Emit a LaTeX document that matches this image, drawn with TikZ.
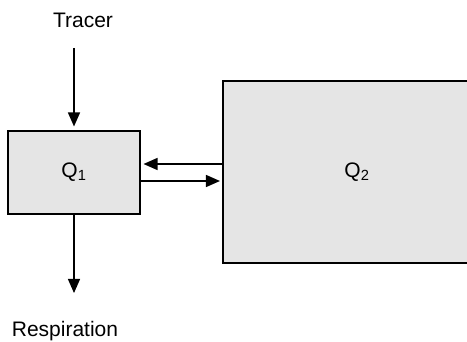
\documentclass[tikz,border=0pt]{standalone}
\usepackage{fontspec}
\setmainfont{Liberation Sans}
\usetikzlibrary{arrows.meta}

\tikzset{
  pool/.style={draw, line width=1.1pt, fill=black!10, inner sep=0pt},
  flow/.style={line width=1.4pt, -{Triangle[length=14pt,width=12pt]}},
}

\begin{document}
\begin{tikzpicture}[x=1pt, y=-1pt, font=\fontsize{21}{25}\selectfont]
  \useasboundingbox (0,0) rectangle (467,342);
  \clip (0,0) rectangle (467,342);

  \node[pool, minimum width=132pt, minimum height=83pt] (Q1) at (74,172.5) {Q\textsubscript{1}};
  \node[pool, minimum width=268pt, minimum height=182pt] (Q2) at (357,172) {Q\textsubscript{2}};

  \node (tracer) at (83,20) {Tracer};
  \node (resp) at (65,331) {Respiration};
  \coordinate (in) at (74,48);
  \coordinate (out) at (74,293);

  \draw[flow, shorten >=4pt] (in) -- (Q1.north);
  \draw[flow] (Q1.south) -- (out);
  \draw[flow, shorten >=3pt] ([yshift=8.5pt]Q2.west |- Q1.east) -- ([yshift=8.5pt]Q1.east);
  \draw[flow, shorten >=2.5pt] ([yshift=-8.5pt]Q1.east) -- ([yshift=-8.5pt]Q2.west |- Q1.east);
\end{tikzpicture}
\end{document}
